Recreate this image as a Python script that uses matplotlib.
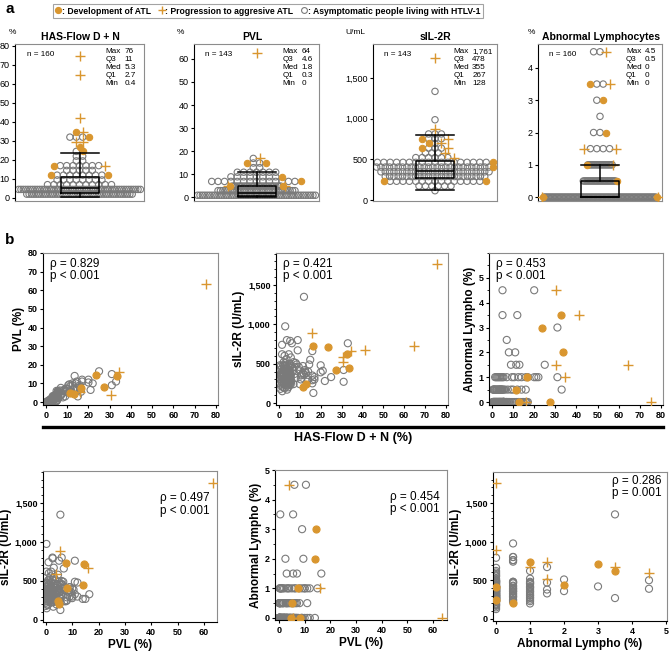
import numpy as np
import matplotlib
matplotlib.use('Agg')
import matplotlib.pyplot as plt
from matplotlib.lines import Line2D
from matplotlib.ticker import FuncFormatter, MultipleLocator

plt.rcParams['font.family'] = ['Liberation Sans', 'DejaVu Sans']

nan = np.nan
ORANGE = '#D9962F'
GRAY = '#7a7a7a'

# ---- asymptomatic carriers (grey open circles), grouped by abnormal lymphocytes ----
# abn 0 (88), abn 0.5 (26), abn 1 (20), abn 1.5 (4), abn 2 (2), abn 2.5 (1), abn 3 (1), abn 3.5 (2), abn 4.5 (2)
asym_has = [
    # abn 0
    0.4, 0.5, 0.6, 0.7, 0.8, 0.9, 1.0, 1.1, 1.2, 1.3, 1.4, 1.5, 1.6,
    1.7, 1.8, 1.9, 2.0, 2.1, 2.2, 2.3, 2.4, 2.5, 2.6, 2.7, 1.2, 2.0,
    2.8, 2.9, 3.0, 3.1, 3.2, 3.3, 3.4, 3.5, 3.6, 3.7, 3.8, 3.9, 4.0, 4.1, 4.2,
    4.3, 4.4, 4.5, 4.6, 4.7, 4.8, 4.9, 5.0, 5.1, 5.2, 5.3, 3.0, 3.6, 4.2, 4.8,
    5.4, 5.4, 5.5, 5.5, 5.5, 5.6, 5.6, 5.6, 5.7, 5.7, 5.4, 5.5, 5.6, 5.7,
    6.0, 6.5, 7.0, 7.5, 8.0, 6.8,
    8.5, 9.5, 10.5,
    11.5, 12.5,
    13.5, 14.5, 15.0,
    16.0, 16.5, 17.0, 16.0,
    # abn 0.5
    0.5, 0.8, 1.0, 1.5, 2.0, 2.5, 3.0, 3.5, 3.8, 4.0, 4.2, 4.5, 5.0, 5.5, 1.2, 2.2, 3.2, 4.8,
    6.2, 7.5, 9.0, 10.0, 12.0, 14.0, 16.0, 33.0,
    # abn 1
    1.5, 2.5, 3.0, 4.0, 5.0, 5.5, 2.0, 3.5, 4.5,
    7.0, 9.5, 10.5, 12.5, 14.0, 16.0, 17.0, 20.0, 21.0, 22.0, 31.0,
    # abn 1.5 / 2 / 2.5 / 3 / 3.5 / 4.5
    9.0, 11.5, 13.0, 25.0,
    8.0, 11.0,
    7.0,
    31.0,
    12.0, 5.0,
    5.0, 20.0,
]
asym_pvl = [
    0.0, 0.0, 0.1, 0.0, 0.2, nan, 0.3, 0.0, 0.2, 0.4, 0.1, 0.5, 0.3,
    0.6, 0.2, nan, 0.4, 1.0, 0.3, 1.2, 0.6, 1.4, 0.9, 1.1, 0.1, 0.5,
    0.7, 1.8, 1.3, 2.0, nan, 2.2, 1.0, 2.5, 1.7, 2.1, 1.9, 2.8, 1.4, 2.4, nan,
    3.0, 1.8, 2.9, 3.3, 2.0, 3.6, nan, 4.0, 3.1, 4.4, 3.5, 0.8, 1.6, 2.3, 3.9,
    4.8, 2.6, 5.2, nan, 4.3, 5.6, 3.0, 6.0, 4.6, 2.2, 1.2, nan, 5.0, 4.1,
    5.4, 6.2, 7.6, 4.5, 5.8, 3.3,
    6.6, 7.2, 9.0,
    8.6, 10.0,
    14.0, 11.0, 3.0,
    9.0, 5.5, 12.0, 6.8,
    0.2, 0.1, 0.6, 1.0, 0.4, 1.5, 0.2, 1.2, 2.5, 3.0, 1.8, 3.5, 2.8, 4.0, 0.3, 1.6, 3.2, 0.5,
    5.0, 4.5, 6.0, 7.0, 5.5, 6.5, 8.0, 11.0,
    0.2, 0.5, 1.0, 1.5, 0.8, 2.0, 0.6, 3.0, 4.0,
    3.5, 6.0, 5.0, 9.0, 10.0, 8.0, 11.0, 12.0, 6.5, 10.0, 15.0,
    3.0, 5.5, 7.0, 16.5,
    2.5, 9.5,
    nan,
    9.0,
    5.5, 0.5,
    6.0, 10.5,
]
asym_sil = [
    310, 250, 420, 180, 360, nan, 470, 220, 380, 330, 265, 400, 150,
    340, 280, nan, 200, 370, 300, 520, 240, 410, 320, 600, 270, 355,
    190, 430, 260, 480, nan, 230, 390, 310, 560, 285, 440, 170, 365, 295, nan,
    250, 420, 330, 275, 620, 345, nan, 460, 300, 385, 240, 505, 325, 270, 415,
    355, 790, 290, nan, 380, 230, 470, 335, 580, 260, 400, nan, 490, 360,
    280, 450, 240, 370, 320, 410,
    490, 420, 300,
    380, 400,
    270, 490, 550,
    350, 128, 300, 660,
    480, 300, 350, 740, 480, 250, 975, 470, 800, 380, 220, 330, 420, 280, 430, 390, 320, 360,
    760, 460, 800, 240, 360, 400, 290, 760,
    620, 470, 450, 400, 380, 310, 360, 230, 200,
    520, 460, 350, 420, 300, 250, 330, 480, 410, 280, 270,
    670, 470, 380, 330,
    510, 360,
    nan,
    420,
    1350, 270,
    500, 390,
]
asym_abn = [0.0] * 88 + [0.5] * 26 + [1.0] * 20 + [1.5] * 4 + [2.0] * 2 + [2.5] + [3.0] + [3.5] * 2 + [4.5] * 2

# ---- development of ATL (orange filled circles) ----
dev_has = [23.5, 32.5, 33.5, 27.5, 16.5, 11.5, 13.0]
dev_pvl = [14.5, nan, 14.0, 8.0, 7.5, 5.0, 4.5]
dev_sil = [715, 620, 445, 415, 730, 210, 240]
dev_abn = [3.0, 3.5, 2.0, 0.0, 1.0, 0.5, 0.0]

# ---- progression to aggressive ATL (orange plus) ----
prog_has = [75.5, 64.5, 41.0, 34.5, 30.5, 30.5, 16.0]
prog_pvl = [63.5, nan, nan, 16.0, 4.0, nan, 5.5]
prog_sil = [1761, 730, 675, 665, 590, 520, 885]
prog_abn = [0.0, 1.5, 3.5, 1.0, 4.5, 1.5, 0.0]

# summary stats printed in panel a
stat_n = [160, 143, 143, 160]
stat_max = ['76', '64', '1,761', '4.5']
stat_q3 = ['11', '4.6', '478', '0.5']
stat_med = ['5.3', '1.8', '355', '0']
stat_q1 = ['2.7', '0.3', '267', '0']
stat_min = ['0.4', '0', '128', '0']
box_q1 = [2.7, 0.3, 267, 0]
box_med = [5.3, 1.8, 355, 0]
box_q3 = [11, 4.6, 478, 0.5]
whisk_lo = [0.4, 0, 128, 0]
whisk_hi = [23.5, 11, 800, 1.0]

data = {
    'has': (asym_has, dev_has, prog_has),
    'pvl': (asym_pvl, dev_pvl, prog_pvl),
    'sil': (asym_sil, dev_sil, prog_sil),
    'abn': (asym_abn, dev_abn, prog_abn),
}

W, H = 669, 652
fig = plt.figure(figsize=(W / 100, H / 100), dpi=100)


def fax(l, t, r, b):
    return fig.add_axes([l / W, 1 - b / H, (r - l) / W, (b - t) / H])


def style_frame(ax, dark=('left',)):
    for s, sp in ax.spines.items():
        sp.set_linewidth(0.8)
        sp.set_color('black' if s in dark else '#8c8c8c')


comma = FuncFormatter(lambda v, p: f'{v:,.0f}')


def swarm(ax, key, binh, off, kmin, wpx, d=6.4):
    # prism-like column scatter: values binned into rows, rows spread sideways
    half = wpx / 2 - 3.6
    rows = {}
    for g, vals in enumerate(data[key]):
        for v in sorted(x for x in vals if not np.isnan(x)):
            k = max(int(np.floor((v - off) / binh + 0.5)), kmin)
            rows.setdefault(k, []).append(g)
    nmax = max(len(r) for r in rows.values())
    tight = 2 * half / (nmax - 1)
    out = {0: ([], []), 1: ([], []), 2: ([], [])}
    for k, row in rows.items():
        n = len(row)
        sp = d if (n - 1) * d <= 2 * half else tight
        slots = sorted([(j - (n - 1) / 2) * sp for j in range(n)], key=lambda x: (abs(x), x))
        for g, x in zip(row, slots):
            out[g][0].append(x)
            out[g][1].append(k * binh + off)
    ax.scatter(*out[0], s=21, facecolors='none', edgecolors=GRAY, linewidths=0.8, zorder=2)
    ax.scatter(*out[1], s=21, facecolors=ORANGE, edgecolors=ORANGE, linewidths=0.8, zorder=3)
    ax.scatter(*out[2], s=42, marker='+', color=ORANGE, linewidths=1.0, zorder=3)


# ---------------- panel a ----------------
panels_a = [
    dict(key='has', box=(15, 44, 144, 201), ylim=(-1.6, 81), ticks=np.arange(0, 81, 10),
         binh=2.5, off=-0.5, kmin=1,
         title='HAS-Flow D + N', tx=80, unit='%', ux=12, sx=0.70, vx=0.85),
    dict(key='pvl', box=(194, 44, 319, 201), ylim=(-1.7, 66.5), ticks=np.arange(0, 61, 10),
         binh=2.0, off=0.8, kmin=0,
         title='PVL', tx=252, unit='%', ux=180, sx=0.71, vx=0.86),
    dict(key='sil', box=(373, 44, 497, 201), ylim=(-10, 1915), ticks=[0, 500, 1000, 1500],
         binh=58, off=0, kmin=0,
         title='sIL-2R', tx=435, unit='U/mL', ux=355, sx=0.65, vx=0.80),
    dict(key='abn', box=(538, 44, 662, 201), ylim=(-0.12, 4.74), ticks=[0, 1, 2, 3, 4],
         binh=0.5, off=0, kmin=0,
         title='Abnormal Lymphocytes', tx=601, unit='%', ux=531, sx=0.71, vx=0.86),
]

for i, p in enumerate(panels_a):
    l, t, r, b = p['box']
    ax = fax(l, t, r, b)
    wpx = r - l
    ax.set_xlim(-wpx / 2, wpx / 2)
    ax.set_ylim(*p['ylim'])
    swarm(ax, p['key'], p['binh'], p['off'], p['kmin'], wpx)
    st = dict(med=box_med[i], q1=box_q1[i], q3=box_q3[i], whislo=whisk_lo[i], whishi=whisk_hi[i], fliers=[])
    lp = dict(color='black', linewidth=1.1)
    ax.bxp([st], positions=[0], widths=38, showfliers=False, capwidths=38, zorder=5,
           boxprops=lp, whiskerprops=lp, capprops=lp, medianprops=lp)
    ax.set_xticks([])
    ax.set_yticks(p['ticks'])
    if p['key'] == 'sil':
        ax.yaxis.set_major_formatter(comma)
    ax.tick_params(axis='y', labelsize=6.5, length=2.5, width=0.8, pad=1.5)
    style_frame(ax)
    ax.text(0.09, 0.93, f'n = {stat_n[i]}', transform=ax.transAxes, fontsize=5.9, va='center')
    ax.text(p['sx'], 0.975, 'Max\nQ3\nMed\nQ1\nMin', transform=ax.transAxes, fontsize=5.9,
            va='top', linespacing=1.2)
    ax.text(p['vx'], 0.975, '\n'.join([stat_max[i], stat_q3[i], stat_med[i], stat_q1[i], stat_min[i]]),
            transform=ax.transAxes, fontsize=5.9, va='top', linespacing=1.2)
    fig.text(p['tx'] / W, 1 - 37 / H, p['title'], ha='center', va='center', fontsize=7.5, weight='bold')
    fig.text(p['ux'] / W, 1 - 33 / H, p['unit'], ha='center', va='center', fontsize=6)

fig.text(5 / W, 1 - 9 / H, 'a', fontsize=11, weight='bold', va='center')
fig.text(5 / W, 1 - 240 / H, 'b', fontsize=11, weight='bold', va='center')

handles = [
    Line2D([], [], marker='o', ls='', mfc=ORANGE, mec=ORANGE, ms=4.2),
    Line2D([], [], marker='+', ls='', color=ORANGE, ms=6, mew=1.0),
    Line2D([], [], marker='o', ls='', mfc='none', mec=GRAY, ms=4.2, mew=0.8),
]
labels = [': Development of ATL', ': Progression to aggresive ATL', ': Asymptomatic people living with HTLV-1']
leg = fig.legend(handles, labels, loc='center', bbox_to_anchor=(268 / W, 1 - 11 / H), ncol=3,
                 frameon=True, fancybox=False, edgecolor='#8c8c8c', prop={'weight': 'bold', 'size': 6.2},
                 handlelength=0.6, handletextpad=0.15, columnspacing=0.9, borderpad=0.3)
leg.get_frame().set_linewidth(0.8)

# ---------------- panel b ----------------
panels_b = [
    dict(x='has', y='pvl', box=(43, 253, 218, 405), xlim=(-1.4, 81), ylim=(-1.6, 80),
         xt=np.arange(0, 81, 10), yt=np.arange(0, 81, 10), ylab='PVL (%)', xlab=None,
         txt='ρ = 0.829\np < 0.001', tpos='left'),
    dict(x='has', y='sil', box=(276, 253, 448, 405), xlim=(-1.4, 81), ylim=(-25, 1907),
         xt=np.arange(0, 81, 10), yt=[0, 500, 1000, 1500], ylab='sIL-2R (U/mL)', xlab=None,
         txt='ρ = 0.421\np < 0.001', tpos='left'),
    dict(x='has', y='abn', box=(489, 253, 663, 405), xlim=(-1.4, 81), ylim=(-0.12, 6.0),
         xt=np.arange(0, 81, 10), yt=[0, 1, 2, 3, 4, 5], ylab='Abnormal Lympho (%)', xlab=None,
         txt='ρ = 0.453\np < 0.001', tpos='left'),
    dict(x='pvl', y='sil', box=(43, 471, 217, 622), xlim=(-1.1, 65), ylim=(-26, 1910),
         xt=np.arange(0, 61, 10), yt=[0, 500, 1000, 1500], ylab='sIL-2R (U/mL)', xlab='PVL (%)',
         txt='ρ = 0.497\np < 0.001', tpos='right1'),
    dict(x='pvl', y='abn', box=(275, 470, 447, 620), xlim=(-1.56, 65.5), ylim=(-0.07, 5.0),
         xt=np.arange(0, 61, 10), yt=[0, 1, 2, 3, 4, 5], ylab='Abnormal Lympho (%)', xlab='PVL (%)',
         txt='ρ = 0.454\np < 0.001', tpos='right1'),
    dict(x='abn', y='sil', box=(493, 472, 667, 621), xlim=(-0.09, 5.03), ylim=(-26, 1897),
         xt=[0, 1, 2, 3, 4, 5], yt=[0, 500, 1000, 1500], ylab='sIL-2R (U/mL)', xlab='Abnormal Lympho (%)',
         txt='ρ = 0.286\np = 0.001', tpos='right2'),
]

for p in panels_b:
    ax = fax(*p['box'])
    xs, ys = data[p['x']], data[p['y']]
    ax.scatter(xs[0], ys[0], s=26, facecolors='none', edgecolors=GRAY, linewidths=0.8, zorder=2)
    ax.scatter(xs[1], ys[1], s=26, facecolors=ORANGE, edgecolors=ORANGE, linewidths=0.8, zorder=3)
    ax.scatter(xs[2], ys[2], s=48, marker='+', color=ORANGE, linewidths=1.0, zorder=3)
    ax.set_xlim(*p['xlim'])
    ax.set_ylim(*p['ylim'])
    ax.set_xticks(p['xt'])
    ax.set_yticks(p['yt'])
    if p['y'] == 'sil':
        ax.yaxis.set_major_formatter(comma)
        ax.yaxis.set_minor_locator(MultipleLocator(100))
    if p['y'] == 'abn':
        ax.yaxis.set_minor_locator(MultipleLocator(0.5))
    ax.tick_params(labelsize=6.5, length=2.5, width=0.8, pad=1.5)
    ax.tick_params(which='minor', length=1.5, width=0.6)
    for lab in ax.get_xticklabels() + ax.get_yticklabels():
        lab.set_fontweight('bold')
    style_frame(ax, dark=('left', 'bottom'))
    ax.set_ylabel(p['ylab'], fontsize=8.5, weight='bold', labelpad=2)
    if p['xlab']:
        ax.set_xlabel(p['xlab'], fontsize=8.5, weight='bold', labelpad=2)
    if p['tpos'] == 'left':
        ax.text(0.04, 0.97, p['txt'], transform=ax.transAxes, fontsize=8.5, va='top', linespacing=1.05)
    elif p['tpos'] == 'right1':
        ax.text(0.96, 0.86, p['txt'], transform=ax.transAxes, fontsize=8.5, va='top', ha='right',
                linespacing=1.05)
    else:
        ax.text(0.97, 0.98, p['txt'], transform=ax.transAxes, fontsize=8.5, va='top', ha='right',
                linespacing=1.05)

fig.add_artist(Line2D([43 / W, 663 / W], [1 - 427 / H] * 2, color='black', lw=2.4))
fig.text(353 / W, 1 - 438 / H, 'HAS-Flow D + N (%)', ha='center', va='center', fontsize=9, weight='bold')

fig.savefig('out.png', dpi=100)
